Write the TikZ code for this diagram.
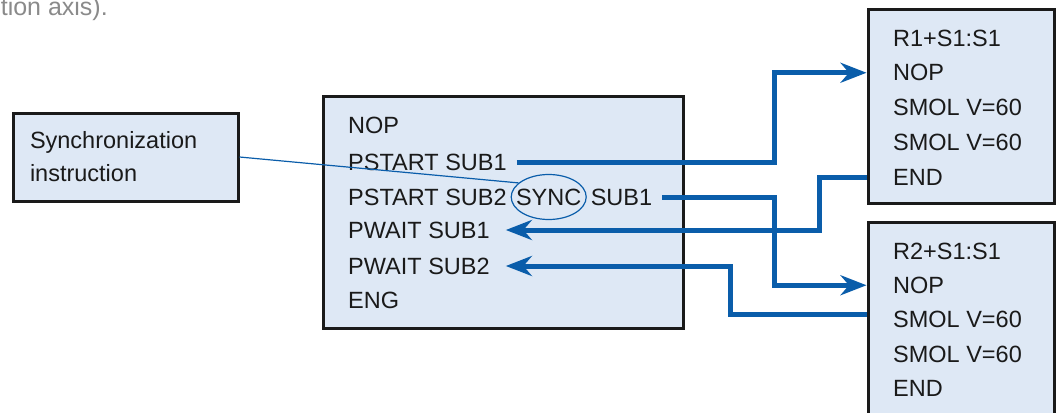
\documentclass[tikz,border=0pt]{standalone}
\usepackage{fontspec}
\setmainfont{Liberation Sans}
\usepackage{tikz}
\usepackage{xcolor}
\usetikzlibrary{arrows.meta,positioning,shapes.geometric,calc}
\definecolor{robotblue}{HTML}{0A5DAA}
\definecolor{panelfill}{HTML}{DEE8F5}
\definecolor{ink}{HTML}{1A1A1A}
\definecolor{captiongray}{HTML}{8A8A8A}
\tikzset{
  progbox/.style={
    rectangle, draw=ink, fill=panelfill, line width=3pt,
    inner sep=0pt
  },
  notebox/.style={
    rectangle, draw=ink, fill=panelfill, line width=3pt,
    text width=191pt, inner xsep=17pt, minimum height=88pt,
    font=\fontsize{23.5}{33}\selectfont, text=ink, align=left
  },
  codeline/.style={
    anchor=west, inner sep=0pt, text height=16.5pt, text depth=0pt,
    font=\fontsize{23.5}{27}\selectfont, text=ink
  },
  syncring/.style={
    ellipse, draw=robotblue, line width=1.2pt,
    minimum width=75pt, minimum height=45pt, inner sep=0pt
  },
  flowarrow/.style={
    -{Stealth[length=26pt, width=20pt]}, line width=5pt, draw=robotblue
  },
  noteline/.style={
    draw=robotblue, line width=1.2pt
  },
  captiontext/.style={
    font=\fontsize{25}{28}\selectfont, text=captiongray, inner sep=0pt
  },
}
\begin{document}
\begin{tikzpicture}[x=1pt, y=-1pt]
  \useasboundingbox (0,0) rectangle (1059,412);
  \node[captiontext, anchor=base east] (caption) at (108,16) {tion axis).};

  % Main program
  \node[progbox, minimum width=360pt, minimum height=232pt] (mainbox) at (503,212) {};
  \node[codeline] (nop) at (348,125) {NOP};
  \node[codeline] (ps1) at (348,162) {PSTART SUB1};
  \node[codeline] (ps2a) at (348,197) {PSTART SUB2};
  \node[codeline, right=9pt of ps2a] (sync) {SYNC};
  \node[codeline, right=9pt of sync] (ps2b) {SUB1};
  \node[codeline] (pw1) at (348,230) {PWAIT SUB1};
  \node[codeline] (pw2) at (348,266) {PWAIT SUB2};
  \node[codeline] (eng) at (348,300) {ENG};
  \node[syncring] (ring) at (sync) {};

  % Synchronization note
  \node[notebox] (syncnote) at (125.5,157) {Synchronization\\instruction};
  \draw[noteline] (syncnote.east) -- (ring.155);

  % Sub programs
  \node[progbox, minimum width=186pt, minimum height=193pt] (r1box) at (961,106.5) {};
  \foreach \txt [count=\i] in {R1+S1:S1,NOP,SMOL V=60,SMOL V=60,END}
    \node[codeline] (r1l\i) at (893,{38+34.75*(\i-1)}) {\txt};
  \node[progbox, minimum width=186pt, minimum height=193pt] (r2box) at (961,318.5) {};
  \foreach \txt [count=\i] in {R2+S1:S1,NOP,SMOL V=60,SMOL V=60,END}
    \node[codeline] (r2l\i) at (893,{251+34.25*(\i-1)}) {\txt};

  % Connections
  \coordinate (busout) at (774,0);
  \coordinate (busin1) at (819,0);
  \coordinate (busin2) at (730,0);
  \coordinate (r2tap) at ($(r2l3 -| r2box.west)+(0,-5)$);
  \draw[flowarrow] ([xshift=10pt]ps1.east) -- (ps1.east -| busout) |- (r1l2 -| r1box.west);
  \draw[flowarrow] ([xshift=10pt]ps2b.east) -- (ps2b.east -| busout) |- (r2l2 -| r2box.west);
  \draw[flowarrow] (r1l5 -| r1box.west) -- (r1l5 -| busin1) |- ([xshift=16pt]pw1.east);
  \draw[flowarrow] (r2tap) -- (r2tap -| busin2) |- ([xshift=16pt]pw2.east);
\end{tikzpicture}
\end{document}
